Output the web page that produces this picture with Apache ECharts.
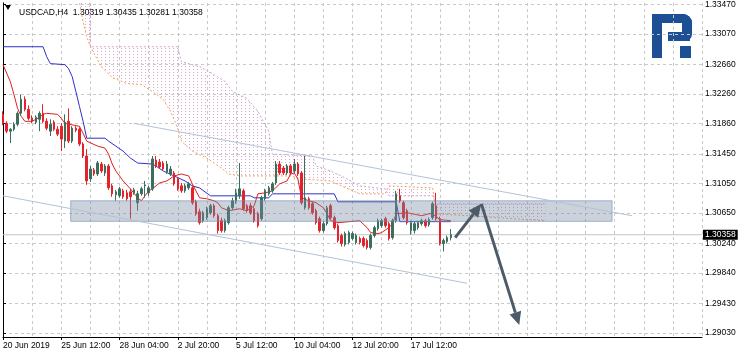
<!DOCTYPE html>
<html>
<head>
<meta charset="utf-8">
<script src="https://cdn.jsdelivr.net/npm/echarts@6/dist/echarts.min.js"></script>
<style>
html, body { margin: 0; padding: 0; background: #fff; }
#chart { width: 741px; height: 354px; }
</style>
</head>
<body>
<div id="chart"></div>
<script>
// USDCAD H4, bar 0 = 20 Jun 20:00
var xTickBars = [0, 16, 32, 48, 64, 80, 96, 112];
var xTickLabels = ['20 Jun 2019', '25 Jun 12:00', '28 Jun 04:00', '2 Jul 20:00', '5 Jul 12:00', '10 Jul 04:00', '12 Jul 20:00', '17 Jul 12:00'];
var yTickLabels = ['1.29030', '1.29430', '1.29840', '1.30240', '1.30650', '1.31050', '1.31450', '1.31860', '1.32260', '1.32660', '1.33070', '1.33470'];

// open, close, low, high
var candles = [
  [1.31986, 1.31865, 1.31838, 1.32026], [1.31865, 1.31758, 1.31731, 1.31892], [1.31758, 1.31784, 1.31597, 1.31798], [1.31784, 1.31852, 1.31758, 1.31879],
  [1.31852, 1.31999, 1.31825, 1.32026], [1.31999, 1.32188, 1.31972, 1.32255], [1.32188, 1.32053, 1.32026, 1.32228], [1.32053, 1.31932, 1.31905, 1.32107],
  [1.31932, 1.31892, 1.31865, 1.31972], [1.31879, 1.31946, 1.31852, 1.31972], [1.31918, 1.31999, 1.31758, 1.32026], [1.31999, 1.31892, 1.31865, 1.32121],
  [1.31892, 1.31798, 1.31771, 1.31932], [1.31758, 1.31852, 1.31691, 1.31918], [1.31879, 1.31784, 1.31758, 1.31905], [1.31784, 1.31718, 1.31691, 1.31825],
  [1.31825, 1.31651, 1.31489, 1.31865], [1.31624, 1.31879, 1.31530, 1.31986], [1.31892, 1.31624, 1.31597, 1.32066], [1.31624, 1.31798, 1.31597, 1.31825],
  [1.31798, 1.31771, 1.31744, 1.31825], [1.31784, 1.31583, 1.31556, 1.31811], [1.31584, 1.31422, 1.31395, 1.31610], [1.31422, 1.31086, 1.31032, 1.31516],
  [1.31113, 1.31247, 1.31072, 1.31287], [1.31234, 1.31180, 1.31153, 1.31260], [1.31180, 1.31328, 1.31153, 1.31355], [1.31314, 1.31220, 1.31193, 1.31341],
  [1.31193, 1.31287, 1.31153, 1.31314], [1.31287, 1.30992, 1.30965, 1.31314], [1.31019, 1.30911, 1.30871, 1.31046], [1.30898, 1.30938, 1.30817, 1.30965],
  [1.30885, 1.30979, 1.30858, 1.31005], [1.30952, 1.30871, 1.30844, 1.30979], [1.30925, 1.30844, 1.30817, 1.30965], [1.30938, 1.30871, 1.30575, 1.30979],
  [1.30925, 1.30965, 1.30898, 1.30992], [1.30790, 1.30912, 1.30683, 1.30952], [1.30912, 1.30979, 1.30885, 1.31005], [1.31019, 1.31032, 1.30858, 1.31086],
  [1.30925, 1.30992, 1.30885, 1.31019], [1.30979, 1.31382, 1.30952, 1.31422], [1.31368, 1.31287, 1.31260, 1.31422], [1.31341, 1.31274, 1.31247, 1.31382],
  [1.31328, 1.31247, 1.31220, 1.31355], [1.31207, 1.31314, 1.31180, 1.31355], [1.31180, 1.31247, 1.31153, 1.31287], [1.31193, 1.31046, 1.31019, 1.31220],
  [1.31113, 1.30979, 1.30952, 1.31140], [1.31019, 1.30952, 1.30925, 1.31059], [1.30952, 1.31019, 1.30925, 1.31046], [1.30992, 1.31046, 1.30965, 1.31072],
  [1.30992, 1.30790, 1.30763, 1.31019], [1.30804, 1.30642, 1.30615, 1.30831], [1.30669, 1.30521, 1.30494, 1.30710], [1.30548, 1.30656, 1.30521, 1.30683],
  [1.30589, 1.30710, 1.30562, 1.30737], [1.30656, 1.30750, 1.30629, 1.30777], [1.30750, 1.30616, 1.30589, 1.30777], [1.30616, 1.30414, 1.30374, 1.30643],
  [1.30548, 1.30414, 1.30387, 1.30589], [1.30414, 1.30548, 1.30387, 1.30575], [1.30521, 1.30723, 1.30494, 1.30750], [1.30723, 1.30817, 1.30696, 1.30858],
  [1.30817, 1.30925, 1.30777, 1.30979], [1.30885, 1.30979, 1.30844, 1.31328], [1.30952, 1.30710, 1.30683, 1.30979], [1.30750, 1.30683, 1.30656, 1.30777],
  [1.30750, 1.30656, 1.30629, 1.30790], [1.30710, 1.30548, 1.30521, 1.30737], [1.30643, 1.30481, 1.30454, 1.30669], [1.30575, 1.30858, 1.30548, 1.30885],
  [1.30844, 1.30952, 1.30817, 1.30979], [1.30912, 1.30992, 1.30885, 1.31019], [1.30952, 1.31046, 1.30925, 1.31072], [1.31059, 1.31314, 1.31032, 1.31355],
  [1.31314, 1.31193, 1.31166, 1.31355], [1.31260, 1.31193, 1.31166, 1.31287], [1.31193, 1.31287, 1.31166, 1.31314], [1.31287, 1.31193, 1.31166, 1.31314],
  [1.31220, 1.31314, 1.31193, 1.31382], [1.31314, 1.31180, 1.31153, 1.31341], [1.31193, 1.30790, 1.30763, 1.31220], [1.30723, 1.30858, 1.30696, 1.31422],
  [1.30844, 1.30723, 1.30696, 1.30871], [1.30777, 1.30656, 1.30629, 1.30804], [1.30683, 1.30521, 1.30494, 1.30710], [1.30575, 1.30414, 1.30387, 1.30602],
  [1.30414, 1.30508, 1.30387, 1.30535], [1.30508, 1.30723, 1.30481, 1.30750], [1.30750, 1.30589, 1.30562, 1.30777], [1.30589, 1.30454, 1.30427, 1.30616],
  [1.30481, 1.30280, 1.30253, 1.30508], [1.30347, 1.30239, 1.30199, 1.30374], [1.30226, 1.30374, 1.30199, 1.30401], [1.30253, 1.30387, 1.30226, 1.30414],
  [1.30307, 1.30374, 1.30280, 1.30401], [1.30253, 1.30347, 1.30226, 1.30374], [1.30307, 1.30253, 1.30226, 1.30334], [1.30307, 1.30213, 1.30186, 1.30334],
  [1.30280, 1.30186, 1.30159, 1.30307], [1.30186, 1.30347, 1.30159, 1.30374], [1.30347, 1.30454, 1.30320, 1.30481], [1.30441, 1.30548, 1.30414, 1.30575],
  [1.30481, 1.30548, 1.30454, 1.30575], [1.30575, 1.30481, 1.30454, 1.30602], [1.30508, 1.30307, 1.30280, 1.30535], [1.30320, 1.30548, 1.30293, 1.30575],
  [1.30548, 1.30912, 1.30521, 1.30952], [1.30885, 1.30817, 1.30790, 1.30979], [1.30790, 1.30589, 1.30562, 1.30817], [1.30683, 1.30521, 1.30494, 1.30710],
  [1.30414, 1.30521, 1.30360, 1.30548], [1.30414, 1.30508, 1.30374, 1.30535], [1.30454, 1.30521, 1.30427, 1.30548], [1.30508, 1.30548, 1.30481, 1.30575],
  [1.30548, 1.30481, 1.30454, 1.30575], [1.30494, 1.30562, 1.30467, 1.30589], [1.30589, 1.30777, 1.30562, 1.30804], [1.30750, 1.30575, 1.30548, 1.30925],
  [1.30575, 1.30240, 1.30213, 1.30602], [1.30240, 1.30280, 1.30132, 1.30307], [1.30266, 1.30320, 1.30240, 1.30347], [1.30319, 1.30358, 1.30281, 1.30435]
];

// ichimoku lines, [bar, price] vertices
var tenkan = [[0,1.32657],[2,1.32429],[3,1.32254],[4,1.32066],[5,1.31959],[6,1.31891],[8,1.31891],[9,1.31918],[10,1.31945],[11,1.31985],[12,1.31999],[15,1.31985],[16,1.31932],[17,1.31864],[21,1.31824],[22,1.31730],[23,1.31623],[26,1.31556],[28,1.31529],[29,1.31448],[30,1.31314],[31,1.31220],[33,1.31085],[35,1.30978],[37,1.30857],[38,1.30817],[39,1.30884],[40,1.30951],[41,1.30978],[43,1.31058],[45,1.31085],[47,1.31153],[49,1.31179],[51,1.31153],[52,1.31045],[53,1.30951],[54,1.30857],[56,1.30844],[58,1.30817],[59,1.30790],[60,1.30723],[62,1.30683],[65,1.30709],[67,1.30683],[69,1.30750],[70,1.30911],[72,1.30924],[74,1.30951],[76,1.31045],[78,1.31085],[79,1.31179],[80,1.31193],[81,1.31112],[82,1.30857],[84,1.30817],[86,1.30790],[88,1.30723],[89,1.30642],[90,1.30548],[92,1.30521],[98,1.30548],[100,1.30454],[101,1.30387],[103,1.30374],[104,1.30387],[106,1.30454],[107,1.30508],[108,1.30642],[111,1.30656],[115,1.30615],[117,1.30642],[118,1.30642],[120,1.30562],[123,1.30548]];
var kijun = [[0,1.32899],[11,1.32899],[12,1.32765],[13,1.32671],[17,1.32657],[18,1.32603],[19,1.32496],[20,1.32295],[21,1.32093],[22,1.31891],[23,1.31663],[28,1.31663],[29,1.31623],[31,1.31556],[33,1.31488],[35,1.31394],[37,1.31327],[41,1.31314],[42,1.31287],[44,1.31220],[47,1.31153],[50,1.31085],[52,1.31018],[54,1.30991],[57,1.30884],[68,1.30884],[69,1.30857],[73,1.30857],[74,1.30911],[91,1.30911],[92,1.30803],[108,1.30803],[109,1.30535],[123,1.30535]];
var spanA = [[19,1.33907],[21,1.33504],[22,1.33235],[23,1.33033],[24,1.32899],[27,1.32630],[30,1.32483],[34,1.32402],[38,1.32389],[41,1.32295],[44,1.32187],[46,1.32026],[48,1.31797],[49,1.31623],[52,1.31488],[56,1.31394],[60,1.31260],[62,1.31179],[65,1.31153],[79,1.31153],[82,1.31112],[90,1.31085],[93,1.31018],[98,1.30911],[105,1.30911],[106,1.31018],[118,1.30991],[119,1.30642],[149,1.30548]];
var spanB = [[24,1.33907],[24,1.32899],[48,1.32899],[49,1.32698],[54,1.32630],[58,1.32523],[61,1.32429],[63,1.32295],[67,1.32201],[70,1.32026],[73,1.31757],[74,1.31448],[85,1.31421],[86,1.31287],[90,1.31220],[94,1.31126],[98,1.31018],[105,1.30978],[106,1.30884],[118,1.30884],[119,1.30776],[149,1.30776]];

var lastPrice = 1.30358;
var header = 'USDCAD,H4  1.30319 1.30435 1.30281 1.30358';

// drawn objects, [bar, price]
var zone = [[18.6, 1.30817], [167.3, 1.30539]];
var channelTop = [[35.9, 1.31864], [172.8, 1.30615]];
var channelBottom = [[0, 1.30884], [127.5, 1.29702]];
var arrowUp = [[124.2, 1.30320], [131.4, 1.30776]];
var arrowDown = [[131.4, 1.30776], [141.8, 1.29138]];

var font = '"Liberation Sans", Arial, sans-serif';
var bull = '#3b6f5d', bear = '#e4222b';
var logoBlue = '#1c4f93';

var hatch = document.createElement('canvas');
hatch.width = 4; hatch.height = 3;
var hc = hatch.getContext('2d');
hc.fillStyle = '#d9a9d6';
hc.fillRect(1, 0, 1, 1);

var chart = echarts.init(document.getElementById('chart'));

function arrowItem(pts) {
  return function (params, api) {
    var a = api.coord(pts[0]), b = api.coord(pts[1]);
    var dx = b[0] - a[0], dy = b[1] - a[1], len = Math.sqrt(dx * dx + dy * dy);
    var ux = dx / len, uy = dy / len, hl = 13, hw = 6;
    var bx = b[0] - ux * hl, by = b[1] - uy * hl;
    return {
      type: 'group',
      children: [
        { type: 'line', shape: { x1: a[0], y1: a[1], x2: bx, y2: by }, style: { stroke: '#4d5b69', lineWidth: 3 } },
        { type: 'polygon', shape: { points: [[b[0], b[1]], [bx - uy * hw, by + ux * hw], [bx + uy * hw, by - ux * hw]] }, style: { fill: '#4d5b69' } }
      ]
    };
  };
}

var option = {
  animation: false,
  backgroundColor: '#fff',
  textStyle: { fontFamily: font },
  title: {
    text: header, left: 14, top: 3,
    textStyle: { fontSize: 8.5, fontWeight: 'normal', color: '#000', fontFamily: font }
  },
  grid: { left: 2, right: 39, top: 1, bottom: 17 },
  xAxis: [
    {
      type: 'value', min: 0, max: 192,
      axisLine: { show: true, onZero: false, lineStyle: { color: '#000' } },
      axisTick: { show: true, length: 3, customValues: xTickBars, lineStyle: { color: '#000' } },
      axisLabel: {
        customValues: xTickBars, align: 'left', margin: 4, fontSize: 8.5, color: '#000', fontFamily: font,
        formatter: function (v) { var k = xTickBars.indexOf(v); return k < 0 ? '' : xTickLabels[k]; }
      },
      splitLine: { show: false }
    },
    {
      type: 'value', min: 0, max: 192, interval: 8,
      axisLine: { show: false }, axisTick: { show: false }, axisLabel: { show: false },
      splitLine: { show: true, lineStyle: { color: '#c9c9c9', type: [3, 3] } }
    }
  ],
  yAxis: [
    {
      type: 'value', position: 'right', min: 1.28976, max: 1.33490,
      axisLine: { show: true, lineStyle: { color: '#000' } },
      axisTick: { show: true, length: 3, customValues: yTickLabels.map(Number), lineStyle: { color: '#000' } },
      axisLabel: {
        customValues: yTickLabels.map(Number), margin: 3, fontSize: 8.5, color: '#000', fontFamily: font,
        formatter: function (v) { return v.toFixed(5); }
      },
      splitLine: { show: true, lineStyle: { color: '#c9c9c9', type: [3, 3] } }
    },
    {
      type: 'value', position: 'left', min: 1.28976, max: 1.33490,
      axisLine: { show: true, lineStyle: { color: '#000' } },
      axisTick: { show: false }, axisLabel: { show: false }, splitLine: { show: false }
    }
  ],
  series: [
    {
      type: 'custom', name: 'cloud', clip: true, silent: true, z: 1,
      data: [[0, 1.31]],
      renderItem: function (params, api) {
        var pts = spanB.map(function (d) { return api.coord(d); });
        var back = spanA.slice().reverse().map(function (d) { return api.coord(d); });
        return { type: 'polygon', shape: { points: pts.concat(back) }, style: { fill: { image: hatch, repeat: 'repeat' } } };
      }
    },
    { type: 'line', name: 'Senkou A', data: spanA, symbol: 'none', z: 2, lineStyle: { color: '#f2a15e', width: 1, type: [2, 2] } },
    { type: 'line', name: 'Senkou B', data: spanB, symbol: 'none', z: 2, lineStyle: { color: '#d0a4d0', width: 1, type: [2, 2] } },
    { type: 'line', name: 'Kijun', data: kijun, symbol: 'none', z: 3, lineStyle: { color: '#3030c8', width: 1 } },
    { type: 'line', name: 'Tenkan', data: tenkan, symbol: 'none', z: 3, lineStyle: { color: '#e02020', width: 1 } },
    {
      type: 'line', name: 'bid', z: 3, symbol: 'none', silent: true,
      data: [[0, lastPrice], [192, lastPrice]],
      lineStyle: { color: '#c4c4c4', width: 1 },
      endLabel: {
        show: true, distance: 1, formatter: lastPrice.toFixed(5),
        backgroundColor: '#000', color: '#fff', padding: [1, 2, 0, 2], fontSize: 8.5, fontFamily: font
      }
    },
    {
      type: 'candlestick', name: 'USDCAD', z: 4,
      dimensions: ['bar', 'open', 'close', 'lowest', 'highest'],
      encode: { x: 'bar', y: ['open', 'close', 'lowest', 'highest'] },
      data: candles.map(function (c, i) { return [i].concat(c); }),
      barWidth: 2,
      itemStyle: { color: bull, color0: bear, borderColor: bull, borderColor0: bear, borderWidth: 1 }
    },
    {
      type: 'custom', name: 'zone', silent: true, z: 5,
      data: [[zone[0][0], zone[0][1]]],
      renderItem: function (params, api) {
        var a = api.coord(zone[0]), b = api.coord(zone[1]);
        return {
          type: 'rect',
          shape: { x: a[0], y: a[1], width: b[0] - a[0], height: b[1] - a[1] },
          style: { fill: 'rgba(118,138,160,0.38)', stroke: 'rgba(110,140,180,0.6)', lineWidth: 1 }
        };
      }
    },
    { type: 'line', name: 'channel top', data: channelTop, symbol: 'none', z: 6, lineStyle: { color: '#b3c3d6', width: 1 } },
    { type: 'line', name: 'channel bottom', data: channelBottom, symbol: 'none', z: 6, lineStyle: { color: '#b3c3d6', width: 1 } },
    { type: 'custom', name: 'arrow up', silent: true, z: 7, data: [arrowUp[0]], renderItem: arrowItem(arrowUp) },
    { type: 'custom', name: 'arrow down', silent: true, z: 7, data: [arrowDown[0]], renderItem: arrowItem(arrowDown) }
  ],
  graphic: [
    { type: 'polygon', shape: { points: [[5, 5], [11, 5], [8, 10]] }, style: { fill: '#000' } },
    {
      type: 'group', left: 652, top: 14,
      children: [
        { type: 'rect', shape: { x: 0, y: 0, width: 10, height: 44 }, style: { fill: logoBlue } },
        { type: 'rect', shape: { x: 0, y: 0, width: 40, height: 9, r: [0, 9, 0, 0] }, style: { fill: logoBlue } },
        { type: 'rect', shape: { x: 30, y: 0, width: 10, height: 27, r: [0, 9, 7, 0] }, style: { fill: logoBlue } },
        { type: 'rect', shape: { x: 16, y: 18, width: 22, height: 9 }, style: { fill: logoBlue } },
        { type: 'rect', shape: { x: 28, y: 32, width: 11, height: 12 }, style: { fill: logoBlue } }
      ]
    }
  ]
};

chart.setOption(option);
</script>
</body>
</html>
